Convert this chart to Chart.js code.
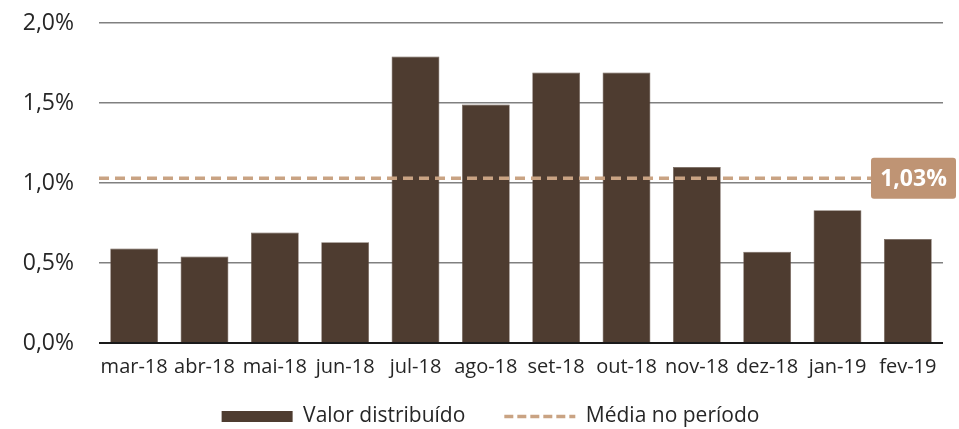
<!DOCTYPE html>
<html>
<head>
<meta charset="utf-8">
<script src="https://cdn.jsdelivr.net/npm/chart.js@4/dist/chart.umd.min.js"></script>
<style>
  html, body { margin: 0; padding: 0; background: #fff; }
  #wrap { width: 959px; height: 429px; }
</style>
</head>
<body>
<div id="wrap"><canvas id="chart"></canvas></div>
<script>
const LABELS = ['mar-18', 'abr-18', 'mai-18', 'jun-18', 'jul-18', 'ago-18', 'set-18', 'out-18', 'nov-18', 'dez-18', 'jan-19', 'fev-19'];
const VALOR  = [0.59, 0.54, 0.69, 0.63, 1.79, 1.49, 1.69, 1.69, 1.10, 0.57, 0.83, 0.65];
const MEDIA  = 1.03;
const Y_TICKS = [0, 0.5, 1.0, 1.5, 2.0];

const BROWN = '#4e3c30';
const SAND  = '#c9a383';
const BOX   = '#bf9474';
const FONT  = "'Open Sans', 'Noto Sans', sans-serif";

const pct = (v, d) => v.toFixed(d).replace('.', ',') + '%';

// caixa com o valor da média no fim da linha tracejada
const mediaTag = {
  id: 'mediaTag',
  afterDatasetsDraw(chart) {
    const { ctx, chartArea, scales } = chart;
    const y = scales.y.getPixelForValue(MEDIA);
    const w = 85, h = 41;
    const x = chartArea.right + 13 - w;
    ctx.save();
    ctx.fillStyle = BOX;
    ctx.beginPath();
    ctx.roundRect(x, y - h / 2, w, h, 3);
    ctx.fill();
    ctx.fillStyle = '#fff';
    ctx.font = `bold 23px ${FONT}`;
    ctx.textAlign = 'center';
    ctx.textBaseline = 'middle';
    ctx.fillText(pct(MEDIA, 2), x + w / 2, y + 1);
    ctx.restore();
  }
};

const legendShift = {
  id: 'legendShift',
  afterLayout(chart) {
    const lg = chart.legend;
    lg.left += 19; lg.right += 19;
    lg.top -= 16; lg.bottom -= 16;
  }
};

const defaultLabels = Chart.defaults.plugins.legend.labels.generateLabels;

new Chart(document.getElementById('chart'), {
  type: 'bar',
  data: {
    labels: LABELS,
    datasets: [
      {
        type: 'bar',
        label: 'Valor distribuído',
        data: VALOR,
        backgroundColor: BROWN,
        borderColor: '#6b5a4e',
        borderWidth: 0.6,
        grouped: false,
        categoryPercentage: 1,
        barPercentage: 0.68,
        pointStyle: 'rect',
        order: 2,
      },
      {
        type: 'line',
        label: 'Média no período',
        data: [{ x: 0, y: MEDIA }, { x: 1, y: MEDIA }],
        xAxisID: 'xm',
        borderColor: SAND,
        borderWidth: 3.5,
        borderDash: [10, 6],
        pointRadius: 0,
        pointStyle: 'line',
        order: 1,
      }
    ]
  },
  options: {
    responsive: true,
    maintainAspectRatio: false,
    animation: false,
    layout: { padding: { top: 23, right: 16, left: 0, bottom: -24 } },
    plugins: {
      tooltip: { enabled: false },
      legend: {
        position: 'bottom',
        labels: {
          usePointStyle: true,
          pointStyleWidth: 71,
          boxHeight: 11,
          padding: 39,
          color: '#262626',
          font: { family: FONT, size: 21 },
          sort: (a, b) => a.datasetIndex - b.datasetIndex,
          generateLabels: chart => defaultLabels(chart).map(item => {
            if (item.datasetIndex === 1) {
              item.lineDash = [9, 4];
              item.lineWidth = 3.5;
              item.strokeStyle = SAND;
            } else {
              item.fillStyle = BROWN;
              item.lineWidth = 0;
            }
            return item;
          }),
        }
      }
    },
    scales: {
      x: {
        type: 'category',
        grid: { display: false },
        border: { display: false },
        ticks: { color: '#262626', font: { family: FONT, size: 20 }, padding: 4, maxRotation: 0, autoSkip: false },
      },
      xm: {
        type: 'linear',
        display: false,
        min: 0,
        max: 1,
        offset: false,
      },
      y: {
        min: 0,
        max: 2,
        afterBuildTicks: s => { s.ticks = Y_TICKS.map(v => ({ value: v })); },
        border: { display: false },
        grid: {
          drawTicks: false,
          color: c => c.tick && c.tick.value === 0 ? '#1a1a1a' : '#808080',
          lineWidth: c => c.tick && c.tick.value === 0 ? 2 : 1.5,
        },
        ticks: {
          color: '#262626',
          padding: 25,
          font: { family: FONT, size: 23 },
          callback: v => pct(v, 1),
        },
        afterFit: s => { s.width = 99; s.paddingTop = 0; s.paddingBottom = 0; },
      }
    }
  },
  plugins: [mediaTag, legendShift]
});
</script>
</body>
</html>
